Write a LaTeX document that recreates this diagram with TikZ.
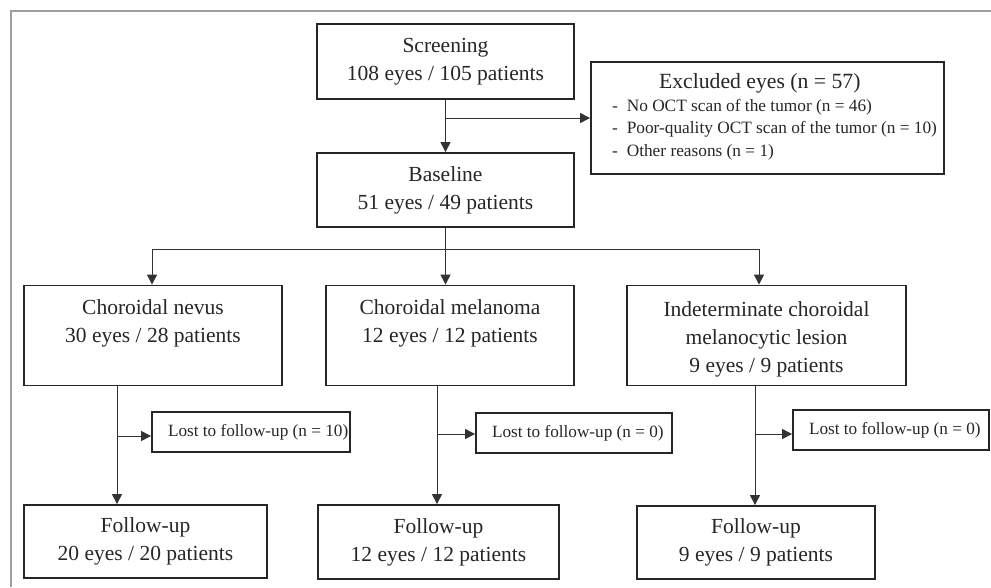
\documentclass[tikz,border=0pt]{standalone}
\usepackage{fontspec}
\setmainfont{Liberation Serif}
\usetikzlibrary{arrows.meta}
\newcommand\lostbox[2]{\makebox[#1][l]{\hspace*{16pt}#2}}
\begin{document}
\begin{tikzpicture}[x=1pt,y=-1pt,
  box/.style={draw=black!85, line width=1.8pt, align=center, inner sep=0pt, text=black!85},
  main/.style={box, font=\fontsize{21.5}{28}\selectfont},
  small/.style={box, font=\fontsize{17.2}{20}\selectfont},
  conn/.style={draw=black!80, line width=1pt},
  tip/.style={-{Triangle[length=10pt,width=10pt]}},
  arr/.style={conn, tip}]
\useasboundingbox (0,0) rectangle (991,587);
\draw[black!38, line width=1.5pt] (11,587) -- (11,11) -- (991,11);

\node[main, minimum width=257, minimum height=75] (scr) at (445.5,61.5) {Screening\\108 eyes / 105 patients};
\node[main, minimum width=257, minimum height=74] (base) at (445.5,190) {Baseline\\51 eyes / 49 patients};
\node[box, minimum width=353, minimum height=112, font=\fontsize{17.3}{22.5}\selectfont] (exc) at (767.5,118)
 {\begin{tabular}{@{\hspace{14pt}}l@{}}
 {\fontsize{21.7}{23}\selectfont\hspace*{47pt}Excluded eyes (n = 57)}\\
 -\hspace{9pt}No OCT scan of the tumor (n = 46)\\
 -\hspace{9pt}Poor-quality OCT scan of the tumor (n = 10)\\
 -\hspace{9pt}Other reasons (n = 1)
 \end{tabular}};

\node[main, minimum width=258, minimum height=100] (nev) at (153,335.5) {Choroidal nevus\\30 eyes / 28 patients\\\mbox{}};
\node[main, minimum width=248, minimum height=100] (mel) at (450,335.5) {Choroidal melanoma\\12 eyes / 12 patients\\\mbox{}};
\node[main, minimum width=279, minimum height=100] (ind) at (766.5,335.5) {\rule{0pt}{22.5pt}Indeterminate choroidal\\melanocytic lesion\\9 eyes / 9 patients};

\node[small, minimum width=198, minimum height=40] (l1) at (251,432) {\lostbox{198pt}{Lost to follow-up (n = 10)}};
\node[small, minimum width=196, minimum height=40] (l2) at (574,433) {\lostbox{196pt}{Lost to follow-up (n = 0)}};
\node[small, minimum width=196, minimum height=40] (l3) at (891,430) {\lostbox{196pt}{Lost to follow-up (n = 0)}};

\node[main, minimum width=243, minimum height=73] (f1) at (145.5,541.5) {Follow-up\\20 eyes / 20 patients};
\node[main, minimum width=241, minimum height=74] (f2) at (438.5,542) {Follow-up\\12 eyes / 12 patients};
\node[main, minimum width=238, minimum height=73] (f3) at (756,542.5) {Follow-up\\9 eyes / 9 patients};

% connectors
\draw[arr] (scr) -- (base);
\coordinate (e1) at (scr.south |- exc.west);
\draw[arr] (e1) -- (exc.west);
\coordinate (j) at (445.5,249);
\coordinate (jl) at (152,249);
\coordinate (jr) at (759,249);
\draw[conn] (base.south) -- (j);
\draw[arr] (j) -- (j |- mel.north);
\draw[conn, {Triangle[length=10pt,width=10pt]}-{Triangle[length=10pt,width=10pt]}] (jl |- nev.north) -- (jl) -- (jr) -- (jr |- ind.north);

\coordinate (v1) at (117,436);
\coordinate (v2) at (437,434);
\coordinate (v3) at (755,434);
\draw[arr] (v1 |- nev.south) -- (v1 |- f1.north);
\draw[arr] (v1) -- (v1 -| l1.west);
\draw[arr] (v2 |- mel.south) -- (v2 |- f2.north);
\draw[arr] (v2) -- (v2 -| l2.west);
\draw[arr] (v3 |- ind.south) -- (v3 |- f3.north);
\draw[arr] (v3) -- (v3 -| l3.west);
\end{tikzpicture}
\end{document}
